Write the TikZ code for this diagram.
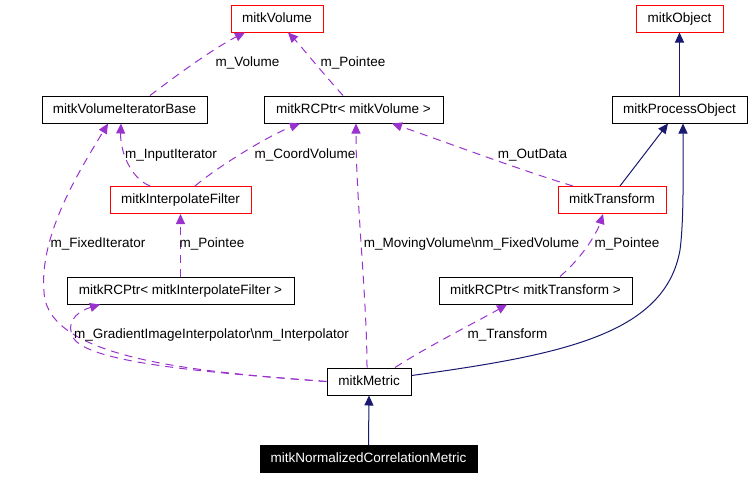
\documentclass[tikz,border=0pt]{standalone}
\usepackage{fontspec}
\setmainfont{Liberation Sans}
\usetikzlibrary{arrows.meta,calc}
\definecolor{usepurple}{RGB}{154,50,205}
\definecolor{basenavy}{RGB}{25,25,112}

\begin{document}
\begin{tikzpicture}[x=1pt, y=-1pt,
    cls/.style={draw=black, line width=1pt, minimum height=27pt, inner sep=0pt,
        text height=10pt, text depth=3pt, font=\fontsize{13.5}{15}\selectfont},
    member/.style={usepurple, line width=1pt, dash pattern=on 8pt off 6pt,
        -{Triangle[length=10pt,width=9pt]}},
    inherit/.style={basenavy, line width=1pt, -{Triangle[length=10pt,width=9pt]}},
    lbl/.style={font=\fontsize{13.5}{15}\selectfont, inner sep=0pt}]
    \useasboundingbox (0,0) rectangle (751,477);
    % classes, top row
    \node[cls, draw=red, minimum width=92pt] (volume) at (277,18.5) {mitkVolume};
    \node[cls, draw=red, minimum width=87pt] (object) at (679.5,18.5) {mitkObject};
    \node[cls, minimum width=165pt] (viterbase) at (124.5,109.5) {mitkVolumeIteratorBase};
    \node[cls, minimum width=179pt] (rcpvolume) at (353.5,109.5) {mitkRCPtr< mitkVolume >};
    \node[cls, minimum width=135pt] (procobj) at (679.5,109.5) {mitkProcessObject};
    % classes, middle
    \node[cls, draw=red, minimum width=141pt] (interpfilter) at (180.5,200) {mitkInterpolateFilter};
    \node[cls, draw=red, minimum width=108pt] (transform) at (612,200) {mitkTransform};
    \node[cls, minimum width=227pt] (rcpinterp) at (180.5,290.5) {mitkRCPtr< mitkInterpolateFilter >};
    \node[cls, minimum width=193pt] (rcptransform) at (535.5,290.5) {mitkRCPtr< mitkTransform >};
    % classes, bottom
    \node[cls, minimum width=84pt] (metric) at (369,381.5) {mitkMetric};
    \node[cls, fill=black, text=white, minimum width=217pt] (ncmetric) at (368.5,459) {mitkNormalizedCorrelationMetric};

    % inheritance
    \draw[inherit] (procobj.north) -- (object.south);
    \draw[inherit] ([xshift=8pt]transform.north) -- ([xshift=-11.5pt]procobj.south);
    \draw[inherit] (metric.8) .. controls (560,355) and (665,335) .. (680,250)
        .. controls (684,220) and (683,170) .. ([xshift=3.5pt]procobj.south);
    \draw[inherit] (ncmetric.north) -- (metric.south);

    % usage
    \draw[member] ([xshift=25.5pt]viterbase.north) .. controls (190,65) and (220,45) .. ([xshift=-32pt]volume.south);
    \draw[member] ([xshift=-10.5pt]rcpvolume.north) .. controls (320,70) and (300,45) .. ([xshift=11pt]volume.south);
    \draw[member] ([xshift=-30.5pt]interpfilter.north) .. controls (130,178) and (120,150) .. ([xshift=-3.5pt]viterbase.south);
    \draw[member] ([xshift=14.5pt]interpfilter.north) .. controls (220,165) and (270,135) .. ([xshift=-53.5pt]rcpvolume.south);
    \draw[member] ([xshift=-39pt]transform.north) .. controls (520,170) and (440,140) .. ([xshift=38.5pt]rcpvolume.south);
    \draw[member] ([xshift=-2pt]metric.north) .. controls (367,300) and (356,200) .. ([xshift=2.5pt]rcpvolume.south);
    \draw[member] (metric.west) .. controls (200,372) and (60,360) .. (45,300)
        .. controls (35,240) and (80,170) .. ([xshift=-16.5pt]viterbase.south);
    \draw[member] (metric.west) .. controls (200,372) and (80,362) .. (72,335)
        .. controls (66,318) and (82,310) .. ([xshift=-80.5pt]rcpinterp.south);
    \draw[member] ([xshift=26pt]metric.north) .. controls (430,345) and (480,320) .. ([xshift=-28.5pt]rcptransform.south);
    \draw[member] ([xshift=24.5pt]rcptransform.north) .. controls (585,255) and (598,230) .. ([xshift=-9pt]transform.south);
    \draw[member] (rcpinterp.north) -- (interpfilter.south);

    % member labels
    \node[lbl] (lvolume) at (247.5,63) {m\_Volume};
    \node[lbl] (lpointeev) at (353,63) {m\_Pointee};
    \node[lbl] (linputit) at (171,155) {m\_InputIterator};
    \node[lbl] (lcoordvol) at (305,155) {m\_CoordVolume};
    \node[lbl] (loutdata) at (532.5,155) {m\_OutData};
    \node[lbl] (lfixedit) at (98,244) {m\_FixedIterator};
    \node[lbl] (lpointeei) at (212,244) {m\_Pointee};
    \node[lbl] (lmovingvol) at (471.5,244) {m\_MovingVolume\textbackslash nm\_FixedVolume};
    \node[lbl] (lpointeet) at (627,244) {m\_Pointee};
    \node[lbl] (linterp) at (211.5,335) {m\_GradientImageInterpolator\textbackslash nm\_Interpolator};
    \node[lbl] (ltransform) at (507.5,335) {m\_Transform};
\end{tikzpicture}
\end{document}
